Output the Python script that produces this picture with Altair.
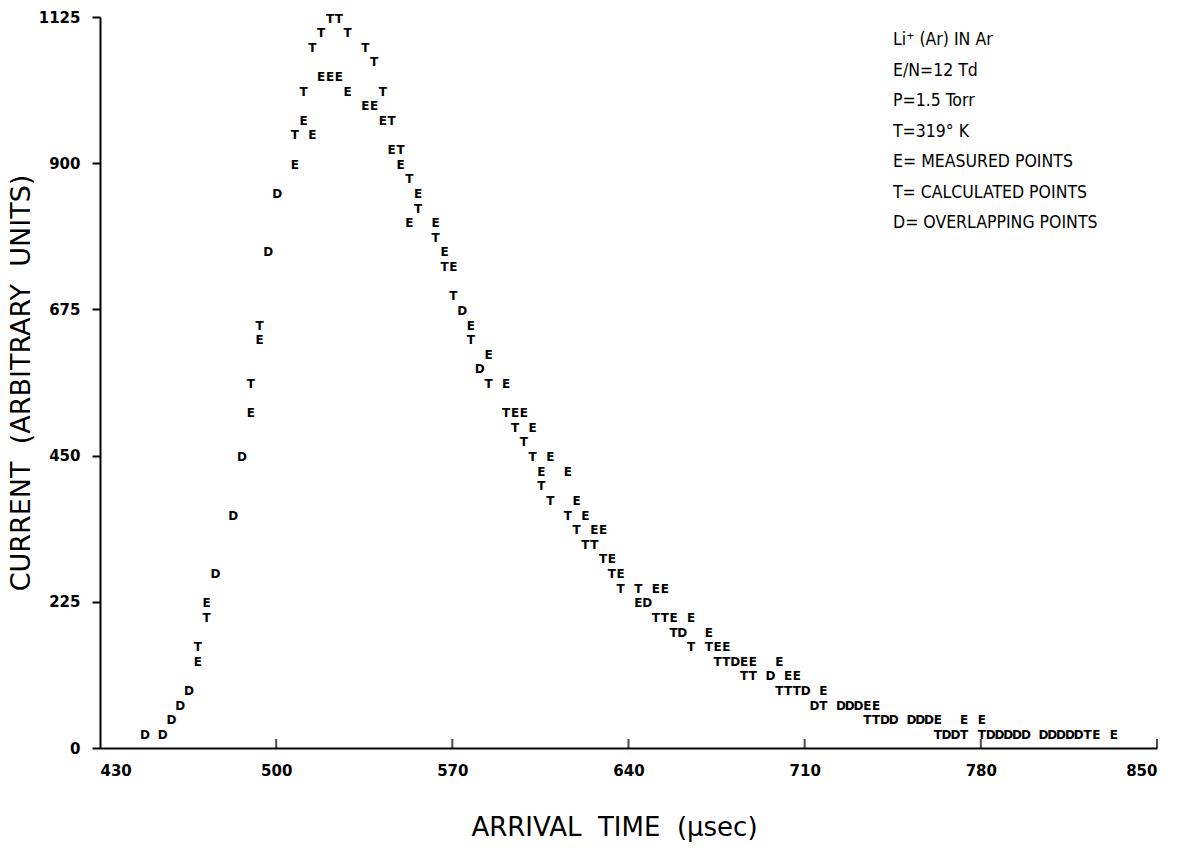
import altair as alt
import pandas as pd

# ---- data (x: arrival time in usec, y: current) ----
# E = measured points
e_time = [468.5, 472, 489.5, 493, 507, 510.5, 514, 517.5, 521, 524.5,
          528, 535, 538.5, 542, 545.5, 549, 556, 552.5, 563, 566.5,
          570, 577, 584, 591, 594.5, 598, 601.5, 608.5, 605, 615.5,
          619, 622.5, 626, 629.5, 633, 636.5, 650.5, 654, 643.5, 657.5,
          664.5, 671.5, 675, 678.5, 685.5, 689, 699.5, 703, 706.5, 717,
          734.5, 738, 762.5, 773, 780, 825.5, 832.5]
e_current = [135, 225, 517.5, 630, 900, 967.5, 945, 1035, 1035, 1035,
             1012.5, 990, 990, 967.5, 922.5, 900, 855, 810, 810, 765,
             742.5, 652.5, 607.5, 562.5, 517.5, 517.5, 495, 450, 427.5, 427.5,
             382.5, 360, 337.5, 337.5, 292.5, 270, 247.5, 247.5, 225, 202.5,
             202.5, 180, 157.5, 157.5, 135, 135, 135, 112.5, 112.5, 90,
             67.5, 67.5, 45, 45, 45, 22.5, 22.5]

# T = calculated points
t_time = [468.5, 472, 489.5, 493, 507, 510.5, 514, 517.5, 521, 524.5,
          528, 535, 538.5, 542, 545.5, 549, 552.5, 556, 563, 566.5,
          570, 577, 584, 591, 594.5, 598, 601.5, 605, 608.5, 615.5,
          619, 622.5, 626, 629.5, 633, 636.5, 643.5, 650.5, 654, 657.5,
          664.5, 671.5, 675, 678.5, 685.5, 689, 699.5, 703, 706.5, 717,
          734.5, 738, 762.5, 773, 780, 822]
t_current = [157.5, 202.5, 562.5, 652.5, 945, 1012.5, 1080, 1102.5, 1125, 1125,
             1102.5, 1080, 1057.5, 1012.5, 967.5, 922.5, 877.5, 832.5, 787.5, 742.5,
             697.5, 630, 562.5, 517.5, 495, 472.5, 450, 405, 382.5, 360,
             337.5, 315, 315, 292.5, 270, 247.5, 247.5, 202.5, 202.5, 180,
             157.5, 157.5, 135, 135, 112.5, 112.5, 90, 90, 90, 67.5,
             45, 45, 22.5, 22.5, 22.5, 22.5]

# D = overlapping points
d_time = [447.5, 454.5, 458, 461.5, 465, 475.5, 482.5, 486, 496.5, 500,
          573.5, 580.5, 647, 661, 682, 696, 710, 713.5, 724, 727.5,
          731, 741.5, 745, 752, 755.5, 759, 766, 769.5, 783.5, 787,
          790.5, 794, 797.5, 804.5, 808, 811.5, 815, 818.5]
d_current = [22.5, 22.5, 45, 67.5, 90, 270, 360, 450, 765, 855,
             675, 585, 225, 180, 135, 112.5, 90, 67.5, 67.5, 67.5,
             67.5, 45, 45, 45, 45, 45, 22.5, 22.5, 22.5, 22.5,
             22.5, 22.5, 22.5, 22.5, 22.5, 22.5, 22.5, 22.5]

x_ticks = [430, 500, 570, 640, 710, 780, 850]
y_ticks = [0, 225, 450, 675, 900, 1125]

notes = [
    "Li\u207a (Ar) IN Ar",
    "E/N=12 Td",
    "P=1.5 Torr",
    "T=319\u00b0 K",
    "E= MEASURED POINTS",
    "T= CALCULATED POINTS",
    "D= OVERLAPPING POINTS",
]

NB = "\u00a0"
x_title = "ARRIVAL" + NB * 2 + "TIME" + NB * 2 + "(\u03bcsec)"
y_title = "CURRENT" + NB * 2 + "(ARBITRARY" + NB * 2 + "UNITS)"

assert len(e_time) == len(e_current)
assert len(t_time) == len(t_current)
assert len(d_time) == len(d_current)

rows = []
for sym, xs, ys in (("E", e_time, e_current), ("T", t_time, t_current), ("D", d_time, d_current)):
    for xv, yv in zip(xs, ys):
        rows.append({"time": xv, "current": yv, "sym": sym})
df = pd.DataFrame(rows)

W, H = 1057, 731

x_scale = alt.Scale(domain=[430, 850], nice=False, zero=False)
y_scale = alt.Scale(domain=[0, 1125], nice=False, zero=False)

x_axis = alt.Axis(values=x_ticks, format="d", title=x_title, grid=False,
                  tickSize=0, labelPadding=15, labelFont="DejaVu Sans",
                  labelFontWeight="bold", labelFontSize=15, labelColor="black",
                  domainColor="black", domainWidth=2,
                  titleFont="DejaVu Sans", titleFontSize=26, titleFontWeight="normal",
                  titleColor="black", titlePadding=36, titleX=514)
y_axis = alt.Axis(values=y_ticks, format="d", title=y_title, grid=False,
                  tickSize=8, tickWidth=2, tickColor="black", labelPadding=12,
                  labelFont="DejaVu Sans", labelFontWeight="bold", labelFontSize=15,
                  labelColor="black", domainColor="black", domainWidth=2,
                  titleFont="DejaVu Sans", titleFontSize=27, titleFontWeight="normal",
                  titleColor="black", titlePadding=3)

points = alt.Chart(df).mark_text(
    font="DejaVu Sans", fontWeight="bold", fontSize=12, color="black",
    align="center", baseline="middle", dy=1.5, dx=1
).encode(
    x=alt.X("time:Q", scale=x_scale, axis=x_axis),
    y=alt.Y("current:Q", scale=y_scale, axis=y_axis),
    text="sym:N",
)

tick_df = pd.DataFrame({"t": x_ticks[1:]})
xticks = alt.Chart(tick_df).mark_tick(
    orient="vertical", size=9, thickness=2, color="black", yOffset=-4.5
).encode(
    x=alt.X("t:Q", scale=x_scale),
    y=alt.datum(0, scale=y_scale),
)

note_df = pd.DataFrame({"txt": ["\n".join(notes)]})
note = alt.Chart(note_df).mark_text(
    align="left", baseline="top", lineBreak="\n", lineHeight=30.5,
    font="Liberation Sans Narrow, DejaVu Sans Condensed, sans-serif",
    fontSize=17.5, color="black"
).encode(
    x=alt.value(793),
    y=alt.value(14),
    text="txt:N",
)

chart = alt.layer(points, xticks, note).properties(
    width=W, height=H,
    autosize=alt.AutoSizeParams(type="none"),
    padding={"left": 100, "top": 17, "right": 21, "bottom": 102},
    background="white",
).configure_view(strokeWidth=0)

chart.save("out.html", embed_options={"renderer": "svg", "actions": False})
